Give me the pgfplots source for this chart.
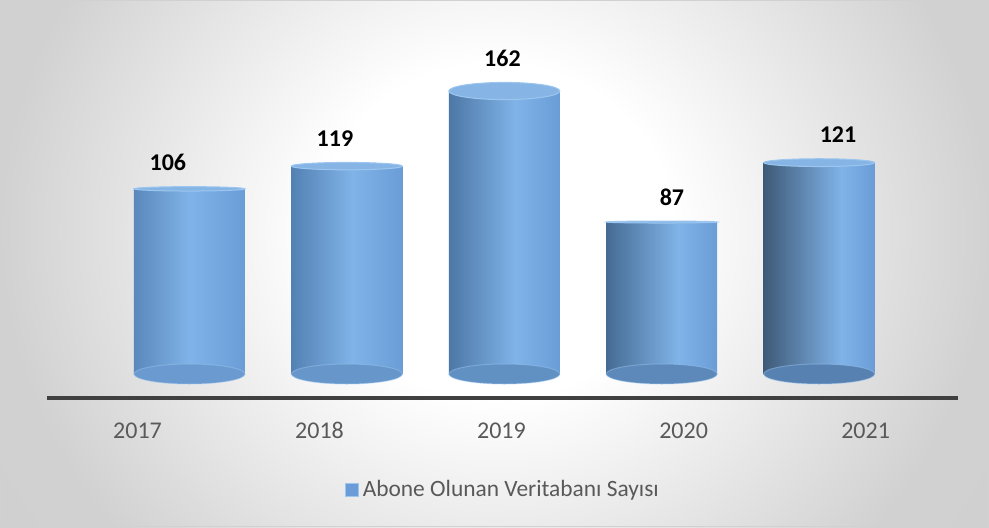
\documentclass[border=0pt]{standalone}
\usepackage{fontspec}
\setmainfont{Carlito}
\usepackage{pgfplots}
\usepackage{pgfplotstable}
\pgfplotsset{compat=1.18}

\definecolor{cylLight}{HTML}{80B3E8}
\definecolor{cylRight}{HTML}{6A9DD6}
\definecolor{cylTop}{HTML}{86B5E5}
\definecolor{cylRim}{HTML}{9CC6F0}
\definecolor{axisgray}{HTML}{404040}
\definecolor{txtgray}{HTML}{595959}
\definecolor{legblue}{HTML}{6A9DD8}
\definecolor{base0}{HTML}{6A9ACF}
\definecolor{base1}{HTML}{6696CA}
\definecolor{base2}{HTML}{6190C3}
\definecolor{base3}{HTML}{5C89BA}
\definecolor{base4}{HTML}{5781B0}

% one horizontal shading per cylinder: left edge gets darker to the right
\newcommand\cylshade[3]{%
  \definecolor{tmp#1}{HTML}{#2}%
  \pgfdeclarehorizontalshading{#1}{100bp}{color(0bp)=(tmp#1); color(25bp)=(tmp#1);
    color(#3bp)=(cylLight); color(75bp)=(cylRight); color(100bp)=(cylRight)}}
\cylshade{cyl0}{5A88BB}{50}
\cylshade{cyl1}{5381B3}{52.5}
\cylshade{cyl2}{4C77A6}{55}
\cylshade{cyl3}{456B93}{57.5}
\cylshade{cyl4}{3E5A78}{60}

\pgfdeclareradialshading{bgshade}{\pgfpoint{0bp}{0bp}}{color(0bp)=(white); color(9bp)=(white);
  color(25bp)=(black!18); color(50bp)=(black!20)}

% cylinder ends (half width 27.75pt)
\pgfdeclareplotmark{cylbase}{%
  \pgfmathtruncatemacro\ixx{\ix}%
  \pgfpathellipse{\pgfpointorigin}{\pgfqpoint{27.75pt}{0pt}}{\pgfqpoint{0pt}{5pt}}%
  \pgfsetfillcolor{base\ixx}\pgfusepath{fill}}
\pgfdeclareplotmark{cylrim}{%
  \pgfpathellipse{\pgfpointorigin}{\pgfqpoint{27.75pt}{0pt}}{\pgfqpoint{0pt}{5pt}}%
  \pgfsetstrokecolor{cylRim}\pgfsetlinewidth{0.5pt}\pgfusepath{stroke}}
\pgfdeclareplotmark{cyltop}{%
  \pgfpathellipse{\pgfpointorigin}{\pgfqpoint{27.75pt}{0pt}}{\pgfqpoint{0pt}{\bb pt}}%
  \pgfsetfillcolor{cylTop}\pgfsetstrokecolor{cylRim}\pgfsetlinewidth{0.5pt}\pgfusepath{fill,stroke}}

% x = category, y = value, b = top ellipse half height (pt), lx = label x
\pgfplotstableread{
x y b lx
0 106 1.1 -0.137
1 119 1.85 0.924
2 162 4.3 1.988
3 87 0.5 3.065
4 121 1.95 4.120
}\datatable

\begin{document}
\begin{tikzpicture}
\begin{scope}
  \clip (0,0) rectangle (494.5pt,263.5pt);
  \shade[shading=bgshade] (0,-84pt) rectangle (494.5pt,380pt);
\end{scope}
\draw[black!18, line width=0.5pt] (0.25pt,0.25pt) rectangle (494.25pt,263.25pt);

\begin{axis}[
    at={(23.5pt,64.5pt)}, anchor=south west,
    scale only axis,
    width=455.5pt, height=179pt,
    xmin=-0.905, xmax=4.882,
    ymin=-13.74, ymax=191.2,
    axis x line=bottom, axis y line=none,
    every outer x axis line/.style={draw=axisgray, line width=2pt},
    xtick={-0.330,0.826,1.982,3.139,4.295},
    xticklabels={2017,2018,2019,2020,2021},
    ytick=\empty,
    major tick length=0pt,
    xticklabel style={anchor=base, yshift=-20pt, font=\fontsize{12}{14}\selectfont, text=txtgray},
    clip=false,
    legend style={at={(0.5016,-0.257)}, anchor=center, draw=none, fill=none,
        font=\fontsize{11.7}{14}\selectfont, text=txtgray},
]

\addplot[only marks, mark=cylbase, forget plot,
    visualization depends on={\thisrow{x}\as\ix}]
    table[x=x, y expr=0] {\datatable};

\addplot[ybar, bar width=55.5pt, bar shift=0pt, draw=none, shading=cyl0, shade, forget plot,
    restrict x to domain=-0.5:0.5] table[x=x, y=y] {\datatable};
\addplot[ybar, bar width=55.5pt, bar shift=0pt, draw=none, shading=cyl1, shade, forget plot,
    restrict x to domain=0.5:1.5] table[x=x, y=y] {\datatable};
\addplot[ybar, bar width=55.5pt, bar shift=0pt, draw=none, shading=cyl2, shade, forget plot,
    restrict x to domain=1.5:2.5] table[x=x, y=y] {\datatable};
\addplot[ybar, bar width=55.5pt, bar shift=0pt, draw=none, shading=cyl3, shade, forget plot,
    restrict x to domain=2.5:3.5] table[x=x, y=y] {\datatable};
\addplot[ybar, bar width=55.5pt, bar shift=0pt, draw=none, shading=cyl4, shade, forget plot,
    restrict x to domain=3.5:4.5] table[x=x, y=y] {\datatable};

\addplot[only marks, mark=cylrim, forget plot, opacity=0.45]
    table[x=x, y expr=0] {\datatable};

\addplot[only marks, mark=cyltop, forget plot,
    visualization depends on={\thisrow{b}\as\bb}]
    table[x=x, y=y] {\datatable};

\addplot[draw=none, mark=none, forget plot,
    visualization depends on={\thisrow{b}\as\bb},
    point meta=explicit,
    nodes near coords={\pgfmathprintnumber[assume math mode=true]{\pgfplotspointmeta}},
    every node near coord/.append style={anchor=center, yshift={12pt+\bb pt},
        font=\bfseries\fontsize{12}{14}\selectfont, text=black}]
    table[x=lx, y=y, meta=y] {\datatable};

\addlegendimage{legend image code/.code={\fill[legblue, draw=cylRim, line width=0.4pt] (0pt,-3.25pt) rectangle (6.5pt,3.25pt);}}
\addlegendentry{Abone Olunan Veritabanı Sayısı}
\end{axis}
\end{tikzpicture}
\end{document}
